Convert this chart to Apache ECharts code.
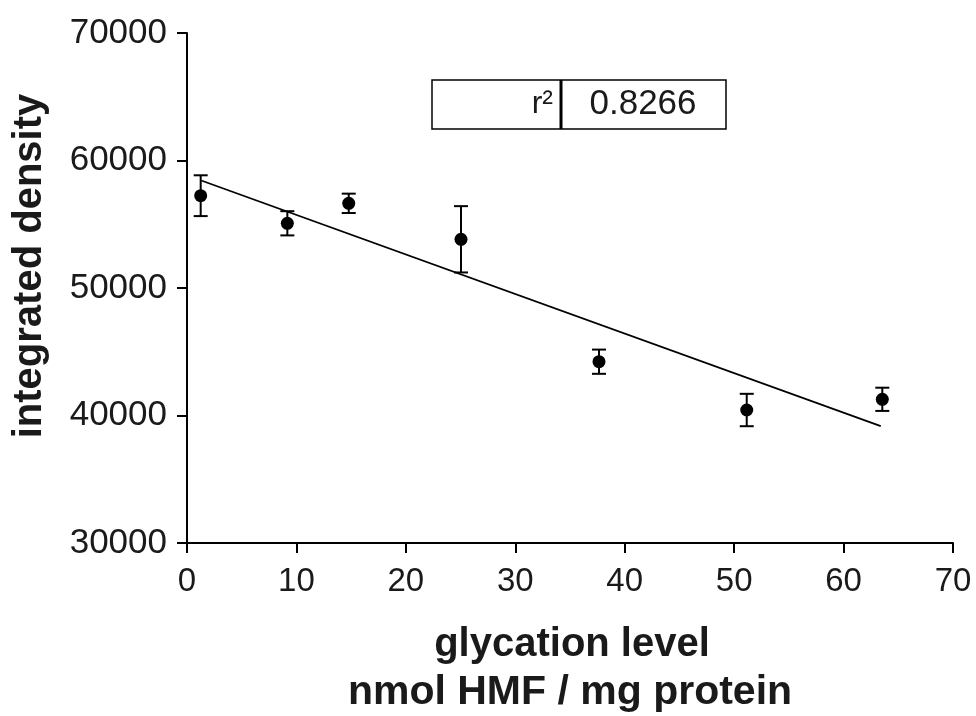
<!DOCTYPE html>
<html>
<head>
<meta charset="utf-8">
<script src="https://cdn.jsdelivr.net/npm/echarts@6/dist/echarts.min.js"></script>
<style>
html,body{margin:0;padding:0;background:#fff;}
#chart{width:976px;height:716px;}
</style>
</head>
<body>
<div id="chart"></div>
<script>
// Data
var xValues = [1.25, 9.17, 14.78, 25.04, 37.65, 51.15, 63.54];
var yMeans  = [57240, 55075, 56640, 53820, 44220, 40430, 41270];
var yErrors = [1600, 950, 760, 2600, 950, 1270, 910];
var fitX = [1.3, 63.4];
var fitY = [58430, 39170];
var xTicks = [0, 10, 20, 30, 40, 50, 60, 70];
var yTicks = [30000, 40000, 50000, 60000, 70000];
var rSquaredLabel = 'r²';
var rSquaredValue = '0.8266';
var xTitleLines = ['glycation level', 'nmol HMF / mg protein'];
var yTitle = 'integrated density';

var FONT = '"Liberation Sans", Arial, sans-serif';
var TXT = '#1a1a1a';

var points = xValues.map(function (x, i) { return [x, yMeans[i]]; });
var errData = xValues.map(function (x, i) { return [x, yMeans[i] - yErrors[i], yMeans[i] + yErrors[i]]; });
var fitData = fitX.map(function (x, i) { return [x, fitY[i]]; });

var chart = echarts.init(document.getElementById('chart'), null, {renderer: 'canvas'});

var option = {
  backgroundColor: '#fff',
  animation: false,
  grid: {left: 187, right: 23, top: 33, bottom: 173, containLabel: false},
  xAxis: {
    type: 'value',
    min: xTicks[0], max: xTicks[xTicks.length - 1], interval: xTicks[1] - xTicks[0],
    splitLine: {show: false},
    axisLine: {onZero: false, lineStyle: {color: '#000', width: 2}},
    axisTick: {show: true, length: 10, lineStyle: {color: '#000', width: 2}},
    axisLabel: {fontFamily: FONT, fontSize: 33, color: TXT, margin: 22,
                formatter: function (v) { return String(v); }}
  },
  yAxis: {
    type: 'value',
    min: yTicks[0], max: yTicks[yTicks.length - 1], interval: yTicks[1] - yTicks[0],
    splitLine: {show: false},
    axisLine: {onZero: false, lineStyle: {color: '#000', width: 2}},
    axisTick: {show: true, length: 10, lineStyle: {color: '#000', width: 2}},
    axisLabel: {fontFamily: FONT, fontSize: 35, color: TXT, margin: 20,
                formatter: function (v) { return String(v); }}
  },
  series: [
    {
      type: 'line',
      data: fitData,
      symbol: 'none',
      lineStyle: {color: '#000', width: 1.8},
      z: 2
    },
    {
      type: 'custom',
      data: errData,
      z: 3,
      renderItem: function (params, api) {
        var x = api.value(0);
        var lo = api.coord([x, api.value(1)]);
        var hi = api.coord([x, api.value(2)]);
        var hw = 7;
        var st = {stroke: '#000', lineWidth: 2};
        return {
          type: 'group',
          children: [
            {type: 'line', shape: {x1: lo[0], y1: lo[1], x2: hi[0], y2: hi[1]}, style: st},
            {type: 'line', shape: {x1: hi[0] - hw, y1: hi[1], x2: hi[0] + hw, y2: hi[1]}, style: st},
            {type: 'line', shape: {x1: lo[0] - hw, y1: lo[1], x2: lo[0] + hw, y2: lo[1]}, style: st}
          ]
        };
      }
    },
    {
      type: 'scatter',
      data: points,
      symbol: 'circle',
      symbolSize: 13,
      itemStyle: {color: '#000', opacity: 1},
      z: 4
    }
  ],
  graphic: [
    {type: 'rect', shape: {x: 432, y: 80, width: 294, height: 49},
     style: {fill: '#fff', stroke: '#000', lineWidth: 1.5}, z: 10},
    {type: 'line', shape: {x1: 561, y1: 80, x2: 561, y2: 129},
     style: {stroke: '#000', lineWidth: 3}, z: 11},
    {type: 'text', x: 553, y: 104, z: 11,
     style: {text: rSquaredLabel, font: '32px ' + FONT, fill: TXT, textAlign: 'right', textVerticalAlign: 'middle'}},
    {type: 'text', x: 643, y: 104, z: 11,
     style: {text: rSquaredValue, font: '35px ' + FONT, fill: TXT, textAlign: 'center', textVerticalAlign: 'middle'}},
    {type: 'text', x: 30, y: 266, rotation: Math.PI / 2, z: 11,
     style: {text: yTitle, font: 'bold 40px ' + FONT, fill: TXT, textAlign: 'center', textVerticalAlign: 'middle'}},
    {type: 'text', x: 572, y: 645, z: 11,
     style: {text: xTitleLines[0], font: 'bold 40px ' + FONT, fill: TXT, textAlign: 'center', textVerticalAlign: 'middle'}},
    {type: 'text', x: 570, y: 693, z: 11,
     style: {text: xTitleLines[1], font: 'bold 41px ' + FONT, fill: TXT, textAlign: 'center', textVerticalAlign: 'middle'}}
  ]
};
chart.setOption(option);
</script>
</body>
</html>
